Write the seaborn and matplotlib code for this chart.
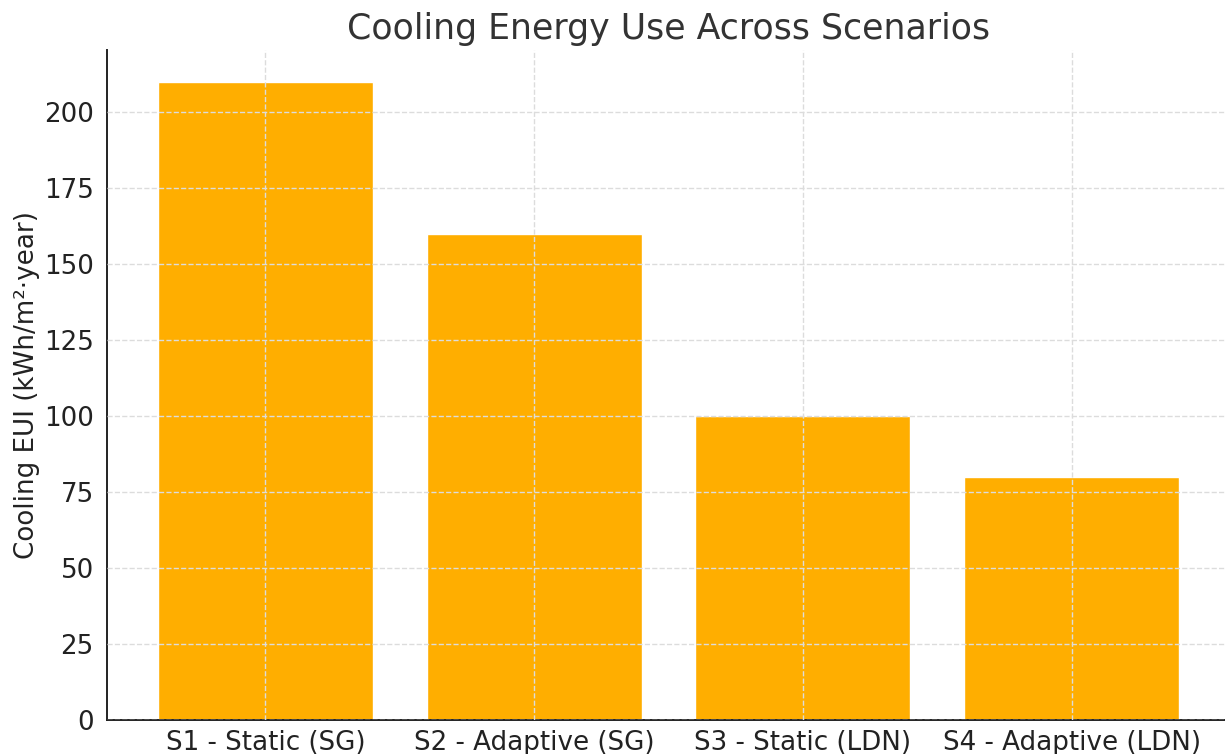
import matplotlib
matplotlib.use("Agg")
import matplotlib.pyplot as plt
import seaborn as sns
import pandas as pd

# data
scenarios = ["S1 - Static (SG)", "S2 - Adaptive (SG)", "S3 - Static (LDN)", "S4 - Adaptive (LDN)"]
cooling_eui = [210, 160, 100, 80]

df = pd.DataFrame({"Scenario": scenarios, "EUI": cooling_eui})

sns.set_style("white")
plt.rcParams["font.family"] = ["DejaVu Sans"]

fig = plt.figure(figsize=(12.25, 7.54), dpi=100)
ax = fig.add_axes([0.0873, 0.0451, 0.917, 0.8886])

sns.barplot(data=df, x="Scenario", y="EUI", color="#FFAE00", saturation=1, width=0.8, ax=ax)

ax.set_xlim(-0.59, 3.59)
ax.set_ylim(0, 220.5)
ax.set_yticks(range(0, 201, 25))

# dashed grid drawn over the bars
ax.set_axisbelow(False)
ax.grid(True, linestyle="--", color="#dcdcdc", linewidth=1)

sns.despine(ax=ax)
for s in ["left", "bottom"]:
    ax.spines[s].set_color("#222222")
    ax.spines[s].set_linewidth(1.4)

ax.tick_params(axis="both", labelsize=18.8, colors="#222222", length=6, width=1.2, direction="out")
ax.tick_params(axis="x", pad=1)
ax.tick_params(axis="both", labelcolor="#222222")

ax.set_title("Cooling Energy Use Across Scenarios", fontsize=25, color="#333333", pad=8)
ax.set_xlabel("")
ax.set_ylabel("Cooling EUI (kWh/m²·year)", fontsize=18.8, color="#222222", labelpad=3)

fig.savefig("out.png", dpi=100)
